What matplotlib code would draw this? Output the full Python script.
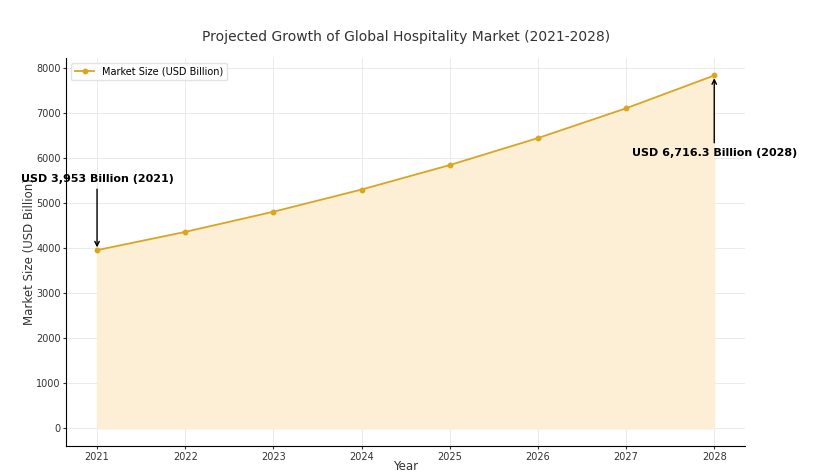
import numpy as np
import matplotlib
matplotlib.use("Agg")
import matplotlib.pyplot as plt

# data
years = [2021, 2022, 2023, 2024, 2025, 2026, 2027, 2028]
market_size = [3953, 4358, 4805, 5297, 5840, 6439, 7099, 7827]
label_start = "USD 3,953 Billion (2021)"
label_end = "USD 6,716.3 Billion (2028)"

fig = plt.figure(figsize=(8.17, 4.74), dpi=100)
ax = fig.add_axes([0.081, 0.059, 0.831, 0.819])

ax.plot(years, market_size, color="#DAA520", marker="o", markersize=3.2,
        linewidth=1.3, label="Market Size (USD Billion)")
ax.fill_between(years, market_size, color="#FDEFD6")

ax.annotate(label_start, xy=(years[0], market_size[0]), xytext=(years[0], 5540),
            ha="center", va="center", fontsize=8, fontweight="bold",
            arrowprops=dict(arrowstyle="->", color="black", lw=1))
ax.annotate(label_end, xy=(years[-1], market_size[-1]), xytext=(years[-1], 6100),
            ha="center", va="center", fontsize=8, fontweight="bold",
            arrowprops=dict(arrowstyle="->", color="black", lw=1))

ax.set_title("Projected Growth of Global Hospitality Market (2021-2028)",
             fontsize=10, color="#333333", pad=12)
ax.set_xlabel("Year", fontsize=8.5, color="#333333", labelpad=-1)
ax.set_ylabel("Market Size (USD Billion)", fontsize=8.5, color="#333333", labelpad=0)
ax.set_xticks(years)
ax.tick_params(labelsize=7, colors="#333333", length=2, pad=2)
ax.grid(True, color="#e6e6e6", linewidth=0.6)
ax.set_axisbelow(True)
for s in ["top", "right"]:
    ax.spines[s].set_visible(False)
ax.legend(loc="upper left", fontsize=7, frameon=True, framealpha=0.8,
          edgecolor="#dddddd")

fig.savefig("out.png", dpi=100)
